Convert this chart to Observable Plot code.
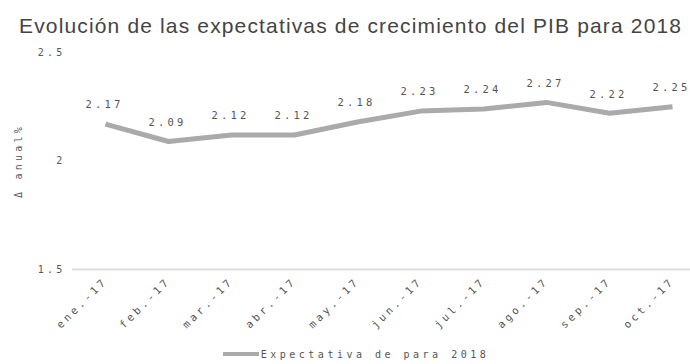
<!DOCTYPE html>
<html>
<head>
<meta charset="utf-8">
<script src="https://cdn.jsdelivr.net/npm/d3@7"></script>
<script src="https://cdn.jsdelivr.net/npm/@observablehq/plot@0.6"></script>
<style>
  body { margin: 0; background: #fff; width: 690px; height: 364px; overflow: hidden; }
  #title { height: 44px; box-sizing: border-box; padding: 15px 0 0 19px; font-family: "Liberation Sans", Arial, sans-serif; font-size: 21px; letter-spacing: 1.15px; color: #444; line-height: 22px; white-space: nowrap; }
  #legend { height: 20px; display: flex; justify-content: center; align-items: center; padding-left: 22px; font-family: "DejaVu Sans Mono", monospace; font-size: 10px; letter-spacing: 3.5px; color: #555; }
  #legend .sw { width: 36px; height: 4px; background: #aaa; margin-right: 2px; }
  #chart svg text { letter-spacing: 3.2px; }
</style>
</head>
<body>
<div id="title">Evolución de las expectativas de crecimiento del PIB para 2018</div>
<div id="chart"></div>
<div id="legend"><span class="sw"></span><span>Expectativa de para 2018</span></div>
<script>
const months = ["ene.-17", "feb.-17", "mar.-17", "abr.-17", "may.-17", "jun.-17", "jul.-17", "ago.-17", "sep.-17", "oct.-17"];
const values = [2.17, 2.09, 2.12, 2.12, 2.18, 2.23, 2.24, 2.27, 2.22, 2.25];
const yTicks = [1.5, 2, 2.5];
const seriesName = "Expectativa de para 2018";

const data = months.map((m, i) => ({month: m, value: values[i]}));
const labelFont = "DejaVu Sans Mono, monospace";

const chart = Plot.plot({
  width: 690,
  height: 300,
  marginTop: 8,
  marginBottom: 75,
  marginLeft: 72,
  marginRight: 0,
  style: {fontFamily: labelFont, fontSize: "10px", color: "#555", background: "white"},
  x: {type: "point", domain: months, range: [72, 704], padding: 0.5},
  y: {domain: [1.5, 2.5]},
  marks: [
    Plot.ruleY([1.5], {stroke: "#ddd", strokeWidth: 2}),
    Plot.axisY({ticks: yTicks, tickSize: 0, tickPadding: 7, tickFormat: d => String(d), label: "Δ anual%", labelAnchor: "center", labelOffset: 58, labelArrow: "none", fill: "#555"}),
    Plot.axisX({tickSize: 0, tickRotate: -45, tickPadding: 10, label: null, fill: "#555", fontSize: 10.5}),
    Plot.line(data, {x: "month", y: "value", stroke: "#aaa", strokeWidth: 5, strokeLinejoin: "round", strokeLinecap: "butt"}),
    Plot.text(data, {x: "month", y: "value", text: d => d.value.toFixed(2), dy: -19, dx: -1, fill: "#555", fontSize: 10.5})
  ]
});
document.getElementById("chart").appendChild(chart);
</script>
</body>
</html>
